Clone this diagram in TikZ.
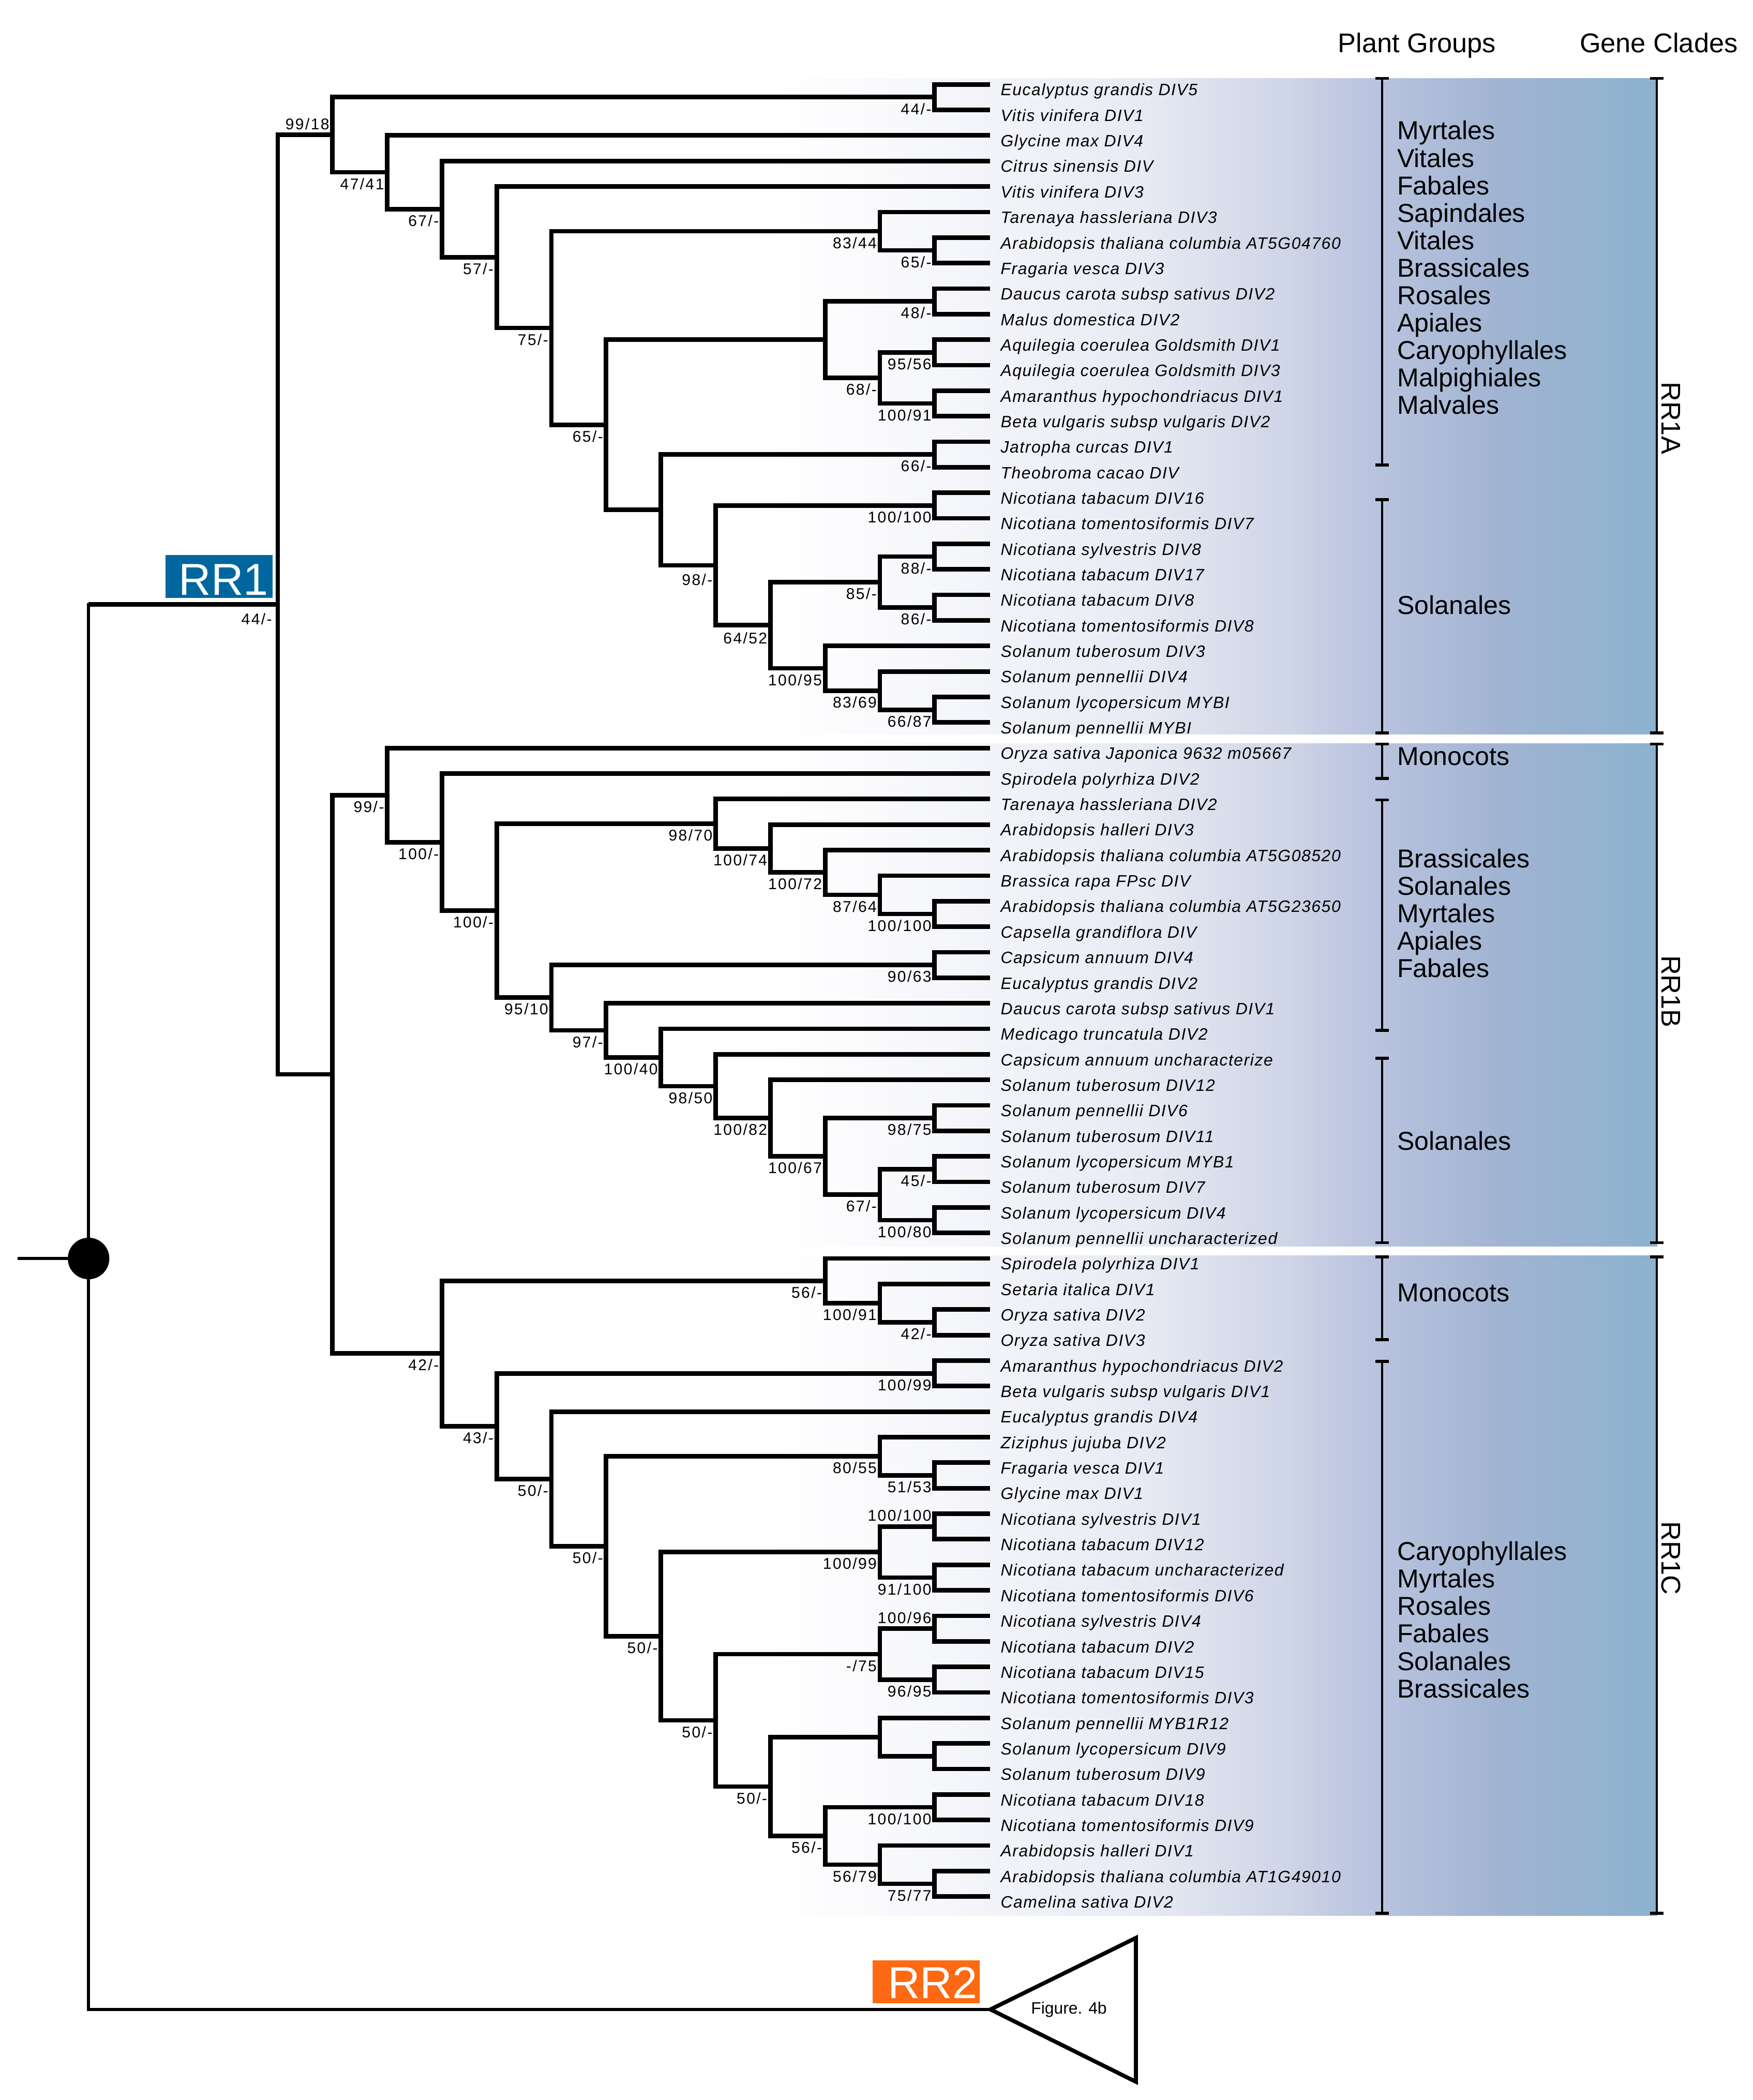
\documentclass[tikz,border=0pt]{standalone}
\usepackage{fontspec}
\setmainfont{Liberation Sans}
\newfontfamily\leaffam[LetterSpace=5]{Liberation Sans}
\newfontfamily\supfam[LetterSpace=8]{Liberation Sans}
\usetikzlibrary{calc}
\definecolor{rrblue}{RGB}{0,103,158}
\definecolor{rrorange}{RGB}{255,105,20}
\definecolor{gA}{RGB}{255,255,255}
\definecolor{gB}{RGB}{246,247,251}
\definecolor{gC}{RGB}{232,235,244}
\definecolor{gD}{RGB}{205,212,230}
\definecolor{gE}{RGB}{190,198,225}
\definecolor{gF}{RGB}{160,180,210}
\definecolor{gG}{RGB}{140,178,207}
\newcommand\yy[1]{(43.95+19.05*(#1))}
\newcommand\xk[1]{(207.3+40.85*(#1))}
\newcommand\lb[3]{\node[sup] (s#1) at ($(#1)+(-2,#3)$) {#2};}
\begin{document}
\begin{tikzpicture}[x=0.02cm,y=-0.02cm,
  br/.style={line width=1.93pt},
  thinbr/.style={line width=1.37pt},
  leaflab/.style={font=\leaffam\itshape\fontsize{7}{8}\selectfont, anchor=base west, inner sep=0pt},
  sup/.style={font=\supfam\fontsize{6.6}{7}\selectfont, anchor=base east, inner sep=0pt},
  grp/.style={font=\fontsize{11}{12}\selectfont, anchor=base west, inner sep=0pt},
  hdr/.style={font=\fontsize{11.5}{12}\selectfont, anchor=base, inner sep=0pt},
  clade/.style={font=\fontsize{11.5}{12}\selectfont, rotate=-90, inner sep=0pt},
  brk/.style={line width=1.02pt},
  tick/.style={line width=1.25pt},
  rrlab/.style={font=\fontsize{19}{20}\selectfont, text=white, anchor=base, inner sep=0pt}]
\useasboundingbox (0,0) rectangle (1308,1567.4);
% background gradient panel
\shade[left color=gA,right color=gB] (575,58.5) rectangle (700.5,1429.6);
\shade[left color=gB,right color=gC] (700,58.5) rectangle (850.5,1429.6);
\shade[left color=gC,right color=gD] (850,58.5) rectangle (965.5,1429.6);
\shade[left color=gD,right color=gE] (965,58.5) rectangle (1010.5,1429.6);
\shade[left color=gE,right color=gF] (1010,58.5) rectangle (1120.5,1429.6);
\shade[left color=gF,right color=gG] (1120,58.5) rectangle (1237,1429.6);
\fill[white] (570,548.2) rectangle (1240,554.6);
\fill[white] (570,930.4) rectangle (1240,936.8);
% header
\node[hdr] (hpg) at (1057.5,39) {Plant Groups};
\node[hdr] (hgc) at (1238,39) {Gene Clades};
% leaves
\foreach \i/\t in {1/Eucalyptus grandis DIV5, 2/Vitis vinifera DIV1, 3/Glycine max DIV4,
 4/Citrus sinensis DIV, 5/Vitis vinifera DIV3, 6/Tarenaya hassleriana DIV3,
 7/Arabidopsis thaliana columbia AT5G04760, 8/Fragaria vesca DIV3,
 9/Daucus carota subsp sativus DIV2, 10/Malus domestica DIV2,
 11/Aquilegia coerulea Goldsmith DIV1, 12/Aquilegia coerulea Goldsmith DIV3,
 13/Amaranthus hypochondriacus DIV1, 14/Beta vulgaris subsp vulgaris DIV2,
 15/Jatropha curcas DIV1, 16/Theobroma cacao DIV, 17/Nicotiana tabacum DIV16,
 18/Nicotiana tomentosiformis DIV7, 19/Nicotiana sylvestris DIV8, 20/Nicotiana tabacum DIV17,
 21/Nicotiana tabacum DIV8, 22/Nicotiana tomentosiformis DIV8, 23/Solanum tuberosum DIV3,
 24/Solanum pennellii DIV4, 25/Solanum lycopersicum MYBI, 26/Solanum pennellii MYBI,
 27/Oryza sativa Japonica 9632 m05667, 28/Spirodela polyrhiza DIV2,
 29/Tarenaya hassleriana DIV2, 30/Arabidopsis halleri DIV3,
 31/Arabidopsis thaliana columbia AT5G08520, 32/Brassica rapa FPsc DIV,
 33/Arabidopsis thaliana columbia AT5G23650, 34/Capsella grandiflora DIV,
 35/Capsicum annuum DIV4, 36/Eucalyptus grandis DIV2, 37/Daucus carota subsp sativus DIV1,
 38/Medicago truncatula DIV2, 39/Capsicum annuum uncharacterize, 40/Solanum tuberosum DIV12,
 41/Solanum pennellii DIV6, 42/Solanum tuberosum DIV11, 43/Solanum lycopersicum MYB1,
 44/Solanum tuberosum DIV7, 45/Solanum lycopersicum DIV4, 46/Solanum pennellii uncharacterized,
 47/Spirodela polyrhiza DIV1, 48/Setaria italica DIV1, 49/Oryza sativa DIV2, 50/Oryza sativa DIV3,
 51/Amaranthus hypochondriacus DIV2, 52/Beta vulgaris subsp vulgaris DIV1,
 53/Eucalyptus grandis DIV4, 54/Ziziphus jujuba DIV2, 55/Fragaria vesca DIV1,
 56/Glycine max DIV1, 57/Nicotiana sylvestris DIV1, 58/Nicotiana tabacum DIV12,
 59/Nicotiana tabacum uncharacterized, 60/Nicotiana tomentosiformis DIV6,
 61/Nicotiana sylvestris DIV4, 62/Nicotiana tabacum DIV2, 63/Nicotiana tabacum DIV15,
 64/Nicotiana tomentosiformis DIV3, 65/Solanum pennellii MYB1R12, 66/Solanum lycopersicum DIV9,
 67/Solanum tuberosum DIV9, 68/Nicotiana tabacum DIV18, 69/Nicotiana tomentosiformis DIV9,
 70/Arabidopsis halleri DIV1, 71/Arabidopsis thaliana columbia AT1G49010, 72/Camelina sativa DIV2}
 {\coordinate (L\i) at (739,{\yy{\i}});
  \node[leaflab] (T\i) at (746.5,{\yy{\i}+8.4}) {\t};}
% internal nodes
\foreach \n/\k/\v in {r1/0/21.3770751953, BC/1/39.78271484375,
 A1/1/2.971435546875, A2/12/1.5, A3/2/4.44287109375, A4/3/5.8857421875, A5/4/7.771484375,
 A6/5/10.54296875, A7/11/6.75, A8/12/7.5, A9/6/14.3359375, A10/10/11, A11/12/9.5,
 A12/11/12.5, A13/12/11.5, A14/12/13.5, A15/7/17.671875, A16/12/15.5, A17/8/19.84375,
 A18/12/17.5, A19/9/22.1875, A20/11/20.5, A21/12/19.5, A22/12/21.5, A23/10/23.875,
 A24/11/24.75, A25/12/25.5,
 B1/2/28.84375, B2/3/30.6875, B3/4/33.375, B4/8/29.96875, B5/9/30.9375, B6/10/31.875,
 B7/11/32.75, B8/12/33.5, B9/5/36.78125, B10/12/35.5, B11/6/38.0625, B12/7/39.125,
 B13/8/40.25, B14/9/41.5, B15/10/43, B16/12/41.5, B17/11/44.5, B18/12/43.5, B19/12/45.5,
 C1/3/50.7216796875, C2/10/47.875, C3/11/48.75, C4/12/49.5, C5/4/53.568359375, C6/12/51.5,
 C7/5/55.63671875, C8/6/58.2734375, C9/11/54.75, C10/12/55.5, C11/7/61.796875, C12/11/58.5,
 C13/12/57.5, C14/12/59.5, C15/8/65.09375, C16/11/62.5, C17/12/61.5, C18/12/63.5,
 C19/9/67.6875, C20/11/65.75, C21/12/66.5, C22/10/69.625, C23/12/68.5, C24/11/70.75,
 C25/12/71.5}
 {\coordinate (\n) at ({\xk{\k}},{\yy{\v}});}
% branches
\foreach \p/\a/\b in {r1/A1/BC, BC/B1/C1,
 A1/A2/A3, A2/L1/L2, A3/L3/A4, A4/L4/A5, A5/L5/A6, A6/A7/A9, A7/L6/A8, A8/L7/L8,
 A9/A10/A15, A10/A11/A12, A11/L9/L10, A12/A13/A14, A13/L11/L12, A14/L13/L14,
 A15/A16/A17, A16/L15/L16, A17/A18/A19, A18/L17/L18, A19/A20/A23, A20/A21/A22,
 A21/L19/L20, A22/L21/L22, A23/L23/A24, A24/L24/A25, A25/L25/L26,
 B1/L27/B2, B2/L28/B3, B3/B4/B9, B4/L29/B5, B5/L30/B6, B6/L31/B7, B7/L32/B8, B8/L33/L34,
 B9/B10/B11, B10/L35/L36, B11/L37/B12, B12/L38/B13, B13/L39/B14, B14/L40/B15,
 B15/B16/B17, B16/L41/L42, B17/B18/B19, B18/L43/L44, B19/L45/L46,
 C1/C2/C5, C2/L47/C3, C3/L48/C4, C4/L49/L50, C5/C6/C7, C6/L51/L52, C7/L53/C8,
 C8/C9/C11, C9/L54/C10, C10/L55/L56, C11/C12/C15, C12/C13/C14, C13/L57/L58, C14/L59/L60,
 C15/C16/C19, C16/C17/C18, C17/L61/L62, C18/L63/L64, C19/C20/C22, C20/L65/C21,
 C21/L66/L67, C22/C23/C24, C23/L68/L69, C24/L70/C25, C25/L71/L72}
 {\draw[br] (\a) -| (\p) |- (\b);}
% root, RR1 and RR2
\coordinate (root) at (66.1,939.3);
\coordinate (stub) at (13.3,939.3);
\coordinate (rr2apex) at (739.2,1499.8);
\coordinate (rr2top) at (847.8,1446.4);
\coordinate (rr2bot) at (847.8,1553.8);
\draw[br] (r1) -- (r1 -| root);
\draw[thinbr] ($(r1 -| root)+(0,-1)$) -- (root) -- (rr2apex -| root) -- (rr2apex);
\draw[thinbr] (stub) -- (root);
\fill (root) circle (15.5);
\draw[line width=1.7pt] (rr2apex) -- (rr2top) -- (rr2bot) -- cycle;
\node[font=\fontsize{7}{8}\selectfont, anchor=base, inner sep=0pt] (fig4b) at (797.8,1503.2) {Figure. 4b};
\fill[rrblue] (123.4,414.2) rectangle (203.5,446.4);
\node[rrlab] (rr1lab) at (166.9,444) {RR1};
\fill[rrorange] (651.3,1463.1) rectangle (731.1,1495);
\node[rrlab] (rr2lab) at (696,1491.6) {RR2};
\node[sup] (sr1) at ($(r1)+(-4,15)$) {44/-};
% support values
\lb{A1}{99/18}{-4}
\lb{A2}{44/-}{12.8}
\lb{A3}{47/41}{12.8}
\lb{A4}{67/-}{12.8}
\lb{A5}{57/-}{12.8}
\lb{A6}{75/-}{12.8}
\lb{A7}{83/44}{12.8}
\lb{A8}{65/-}{12.8}
\lb{A9}{65/-}{12.8}
\lb{A11}{48/-}{12.8}
\lb{A12}{68/-}{12.8}
\lb{A13}{95/56}{12.8}
\lb{A14}{100/91}{12.8}
\lb{A16}{66/-}{12.8}
\lb{A17}{98/-}{15}
\lb{A18}{100/100}{12.8}
\lb{A19}{64/52}{14}
\lb{A20}{85/-}{12.8}
\lb{A21}{88/-}{12.8}
\lb{A22}{86/-}{12.8}
\lb{A23}{100/95}{12.8}
\lb{A24}{83/69}{12.8}
\lb{A25}{66/87}{12.8}
\lb{B1}{99/-}{12.8}
\lb{B2}{100/-}{12.8}
\lb{B3}{100/-}{12.8}
\lb{B4}{98/70}{12.8}
\lb{B5}{100/74}{12.8}
\lb{B6}{100/72}{12.8}
\lb{B7}{87/64}{12.8}
\lb{B8}{100/100}{12.8}
\lb{B9}{95/10}{12.8}
\lb{B10}{90/63}{12.8}
\lb{B11}{97/-}{12.8}
\lb{B12}{100/40}{12.8}
\lb{B13}{98/50}{12.8}
\lb{B14}{100/82}{12.8}
\lb{B15}{100/67}{12.8}
\lb{B16}{98/75}{12.8}
\lb{B17}{67/-}{12.8}
\lb{B18}{45/-}{12.8}
\lb{B19}{100/80}{12.8}
\lb{C1}{42/-}{12.8}
\lb{C2}{56/-}{12.8}
\lb{C3}{100/91}{12.8}
\lb{C4}{42/-}{12.8}
\lb{C5}{43/-}{12.8}
\lb{C6}{100/99}{12.8}
\lb{C7}{50/-}{12.8}
\lb{C8}{50/-}{12.8}
\lb{C9}{80/55}{12.8}
\lb{C10}{51/53}{12.8}
\lb{C11}{50/-}{12.8}
\lb{C12}{100/99}{12.8}
\lb{C13}{100/100}{-4}
\lb{C14}{91/100}{12.8}
\lb{C15}{50/-}{12.8}
\lb{C16}{-/75}{12.8}
\lb{C17}{100/96}{-4}
\lb{C18}{96/95}{12.8}
\lb{C19}{50/-}{12.8}
\lb{C22}{56/-}{12.8}
\lb{C23}{100/100}{12.8}
\lb{C24}{56/79}{12.8}
\lb{C25}{75/77}{12.8}
% brackets
\foreach \x/\ya/\yb in {1031.5/58.5/347, 1031.5/373/547, 1031.5/555.3/581, 1031.5/597/769,
 1031.5/790/927.5, 1031.5/938/1000, 1031.5/1016/1428,
 1236.5/58.5/547, 1236.5/555.3/927.5, 1236.5/938/1428}
 {\draw[brk] (\x,\ya) -- (\x,\yb);
  \draw[tick] (\x-5,\ya) -- (\x+5,\ya);
  \draw[tick] (\x-5,\yb) -- (\x+5,\yb);}
% plant groups
\foreach \t [count=\j from 0] in {Myrtales, Vitales, Fabales, Sapindales, Vitales, Brassicales,
 Rosales, Apiales, Caryophyllales, Malpighiales, Malvales}
 {\node[grp] (pa\j) at (1042.5,{104.2+20.5*\j}) {\t};}
\node[grp] (pas) at (1042.5,458.5) {Solanales};
\node[grp] (pbm) at (1042.5,571) {Monocots};
\foreach \t [count=\j from 0] in {Brassicales, Solanales, Myrtales, Apiales, Fabales}
 {\node[grp] (pb\j) at (1042.5,{647.5+20.5*\j}) {\t};}
\node[grp] (pbs) at (1042.5,858.5) {Solanales};
\node[grp] (pcm) at (1042.5,971.5) {Monocots};
\foreach \t [count=\j from 0] in {Caryophyllales, Myrtales, Rosales, Fabales, Solanales, Brassicales}
 {\node[grp] (pc\j) at (1042.5,{1164.6+20.5*\j}) {\t};}
% gene clades
\node[clade] (gca) at (1247,312) {RR1A};
\node[clade] (gcb) at (1247,740) {RR1B};
\node[clade] (gcc) at (1247,1163) {RR1C};
\end{tikzpicture}
\end{document}
